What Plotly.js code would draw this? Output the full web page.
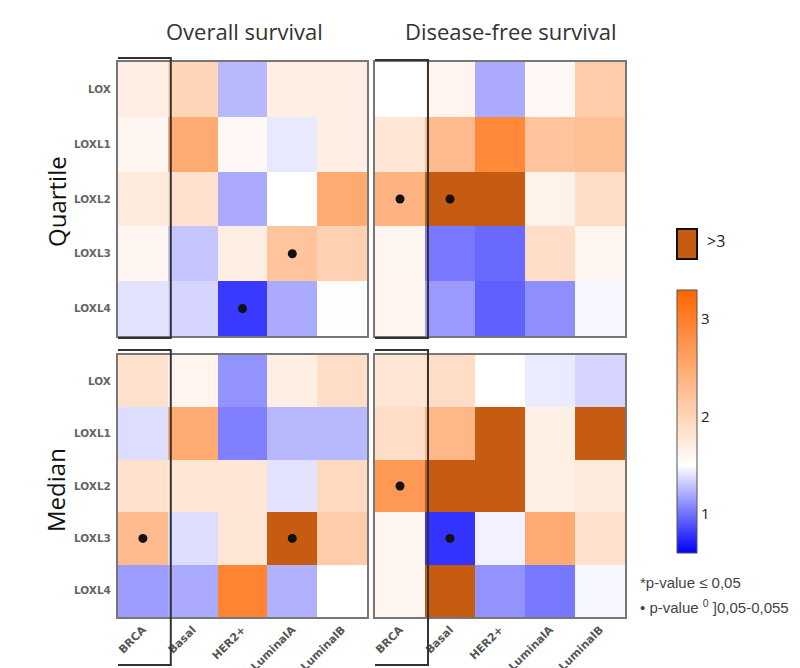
<!DOCTYPE html>
<html>
<head>
<meta charset="utf-8">
<script src="https://cdn.plot.ly/plotly-3.0.1.min.js"></script>
<style>html,body{margin:0;padding:0;background:#fff;}#chart{width:800px;height:668px;}</style>
</head>
<body>
<div id="chart"></div>
<script>
// ---- data ----
var genes = ['LOX', 'LOXL1', 'LOXL2', 'LOXL3', 'LOXL4'];
var subtypes = ['BRCA', 'Basal', 'HER2+', 'LuminalA', 'LuminalB'];

// hazard ratio values (values > 3 drawn as dark ">3" colour)
var quartileOS = [
  [1.70, 2.00, 1.25, 1.70, 1.70],
  [1.60, 2.50, 1.58, 1.42, 1.70],
  [1.75, 1.85, 1.20, 1.50, 2.50],
  [1.60, 1.30, 1.70, 2.20, 2.05],
  [1.40, 1.35, 0.80, 1.20, 1.52]
];
var quartileDFS = [
  [1.50, 1.62, 1.20, 1.58, 2.10],
  [1.80, 2.30, 2.90, 2.20, 2.25],
  [2.40, 3.50, 3.50, 1.65, 1.90],
  [1.60, 1.02, 0.97, 1.90, 1.60],
  [1.62, 1.14, 0.94, 1.10, 1.47]
];
var medianOS = [
  [1.85, 1.62, 1.12, 1.70, 1.90],
  [1.38, 2.50, 1.05, 1.25, 1.25],
  [1.85, 1.80, 1.80, 1.40, 1.95],
  [2.30, 1.38, 1.78, 3.50, 2.10],
  [1.15, 1.20, 2.95, 1.22, 1.50]
];
var medianDFS = [
  [1.80, 1.90, 1.50, 1.43, 1.35],
  [1.90, 2.35, 3.50, 1.68, 3.50],
  [2.70, 3.50, 3.50, 1.68, 1.75],
  [1.60, 0.78, 1.45, 2.50, 1.85],
  [1.60, 3.50, 1.12, 1.02, 1.47]
];

// significance dots (p-value marks)
var quartileOSDotX = ['LuminalA', 'HER2+'];
var quartileOSDotY = ['LOXL3', 'LOXL4'];
var quartileDFSDotX = ['BRCA', 'Basal'];
var quartileDFSDotY = ['LOXL2', 'LOXL2'];
var medianOSDotX = ['BRCA', 'LuminalA'];
var medianOSDotY = ['LOXL3', 'LOXL3'];
var medianDFSDotX = ['BRCA', 'Basal'];
var medianDFSDotY = ['LOXL2', 'LOXL3'];

var colorbarTicks = [1, 2, 3];

// ---- styles ----
var zMin = 0.6, zMax = 3.6;
var cellScale = [
  [0, 'rgb(0,0,255)'],
  [0.3, 'rgb(255,255,255)'],
  [0.9, 'rgb(255,102,0)'],
  [0.9001, 'rgb(197,92,17)'],
  [1, 'rgb(197,92,17)']
];
var barScale = [
  [0, 'rgb(0,0,255)'],
  [0.3333, 'rgb(255,255,255)'],
  [1, 'rgb(255,102,0)']
];

function heat(z, xa, ya) {
  return {
    type: 'heatmap', x: subtypes, y: genes, z: z,
    xaxis: xa, yaxis: ya,
    zmin: zMin, zmax: zMax, colorscale: cellScale,
    showscale: false, hoverinfo: 'x+y+z'
  };
}
function dots(xs, ys, xa, ya) {
  return {
    type: 'scatter', mode: 'markers', x: xs, y: ys,
    xaxis: xa, yaxis: ya,
    marker: {color: '#111', size: 9, symbol: 'circle'},
    hoverinfo: 'skip', showlegend: false
  };
}

var traces = [
  heat(quartileOS, 'x', 'y'),
  heat(quartileDFS, 'x2', 'y2'),
  heat(medianOS, 'x3', 'y3'),
  heat(medianDFS, 'x4', 'y4'),
  dots(quartileOSDotX, quartileOSDotY, 'x', 'y'),
  dots(quartileDFSDotX, quartileDFSDotY, 'x2', 'y2'),
  dots(medianOSDotX, medianOSDotY, 'x3', 'y3'),
  dots(medianDFSDotX, medianDFSDotY, 'x4', 'y4'),
  {
    type: 'scatter', mode: 'markers', x: [subtypes[0]], y: [genes[0]],
    xaxis: 'x', yaxis: 'y', hoverinfo: 'skip', showlegend: false,
    marker: {
      color: [1], colorscale: barScale, cmin: 0.6, cmax: 3.3,
      opacity: 0, size: 1, showscale: true,
      colorbar: {
        x: 677 / 800, xanchor: 'left', y: 1 - 421.5 / 668, yanchor: 'middle',
        thickness: 20, thicknessmode: 'pixels',
        len: 263, lenmode: 'pixels',
        outlinewidth: 1, outlinecolor: '#555',
        tickvals: colorbarTicks, ticks: '',
        tickfont: {family: 'Open Sans', size: 15, color: '#222'},
        xpad: 0, ypad: 0, borderwidth: 0
      }
    }
  }
];

var L = [118 / 800, 367 / 800], R = [375 / 800, 625 / 800];
var T = [1 - 336 / 668, 1 - 62 / 668], B = [1 - 617 / 668, 1 - 355 / 668];

function xax(dom, anchor, labels) {
  return {
    domain: dom, anchor: anchor, type: 'category',
    categoryorder: 'array', categoryarray: subtypes,
    range: [-0.5, 4.5], showgrid: false, zeroline: false,
    showline: true, mirror: true, linecolor: '#777', linewidth: 2,
    ticks: '', showticklabels: labels, tickangle: -45,
    tickfont: {family: 'DejaVu Sans', size: 11, color: '#555', weight: 'bold'},
    fixedrange: true
  };
}
function yax(dom, anchor, labels) {
  return {
    domain: dom, anchor: anchor, type: 'category',
    categoryorder: 'array', categoryarray: genes,
    range: [4.5, -0.5], showgrid: false, zeroline: false,
    showline: true, mirror: true, linecolor: '#777', linewidth: 2,
    ticks: '', showticklabels: labels, ticklabelstandoff: 3,
    tickfont: {family: 'DejaVu Sans', size: 10.5, color: '#666', weight: 'bold'},
    fixedrange: true
  };
}

function box(xref, y0, y1) {
  return {
    type: 'rect', xref: xref, yref: 'paper',
    x0: -0.56, x1: 0.56, y0: y0, y1: y1,
    line: {color: '#333', width: 2}, fillcolor: 'rgba(0,0,0,0)', layer: 'above'
  };
}

var titleFont = {family: 'Open Sans', size: 22, color: '#333'};
var sideFont = {family: 'Open Sans', size: 24, color: '#111'};
var noteFont = {family: 'Liberation Sans Narrow, Liberation Sans', size: 15, color: '#444'};

var layout = {
  width: 800, height: 668,
  margin: {l: 0, r: 0, t: 0, b: 0},
  paper_bgcolor: '#fff', plot_bgcolor: '#fff',
  showlegend: false,
  xaxis: xax(L, 'y', false), yaxis: yax(T, 'x', true),
  xaxis2: xax(R, 'y2', false), yaxis2: yax(T, 'x2', false),
  xaxis3: xax(L, 'y3', true), yaxis3: yax(B, 'x3', true),
  xaxis4: xax(R, 'y4', true), yaxis4: yax(B, 'x4', false),
  shapes: [
    box('x', 1 - 338 / 668, 1 - 58 / 668),
    box('x2', 1 - 338 / 668, 1 - 60 / 668),
    box('x3', 1 - 665 / 668, 1 - 350 / 668),
    box('x4', 1 - 665 / 668, 1 - 350 / 668),
    {type: 'rect', xref: 'paper', yref: 'paper',
     x0: 677 / 800, x1: 697 / 800, y0: 1 - 259 / 668, y1: 1 - 229 / 668,
     line: {color: '#111', width: 2}, fillcolor: 'rgb(197,92,17)'}
  ],
  annotations: [
    {text: 'Overall survival', xref: 'paper', yref: 'paper', x: 244 / 800, y: 1 - 31 / 668,
     xanchor: 'center', yanchor: 'middle', showarrow: false, font: titleFont},
    {text: 'Disease-free survival', xref: 'paper', yref: 'paper', x: 511 / 800, y: 1 - 31 / 668,
     xanchor: 'center', yanchor: 'middle', showarrow: false, font: titleFont},
    {text: 'Quartile', xref: 'paper', yref: 'paper', x: 56 / 800, y: 1 - 202 / 668,
     xanchor: 'center', yanchor: 'middle', textangle: -90, showarrow: false, font: sideFont},
    {text: 'Median', xref: 'paper', yref: 'paper', x: 56 / 800, y: 1 - 490 / 668,
     xanchor: 'center', yanchor: 'middle', textangle: -90, showarrow: false, font: sideFont},
    {text: '>3', xref: 'paper', yref: 'paper', x: 705 / 800, y: 1 - 241 / 668,
     xanchor: 'left', yanchor: 'middle', showarrow: false,
     font: {family: 'Open Sans', size: 16, color: '#222'}},
    {text: '*p-value \u2264 0,05', xref: 'paper', yref: 'paper', x: 638 / 800, y: 1 - 582 / 668,
     xanchor: 'left', yanchor: 'middle', showarrow: false, font: noteFont},
    {text: '\u2022 p-value <sup>0</sup> ]0,05-0,055', xref: 'paper', yref: 'paper', x: 638 / 800, y: 1 - 606 / 668,
     xanchor: 'left', yanchor: 'middle', showarrow: false, font: noteFont}
  ]
};

Plotly.newPlot('chart', traces, layout, {displayModeBar: false, staticPlot: true});
</script>
</body>
</html>
